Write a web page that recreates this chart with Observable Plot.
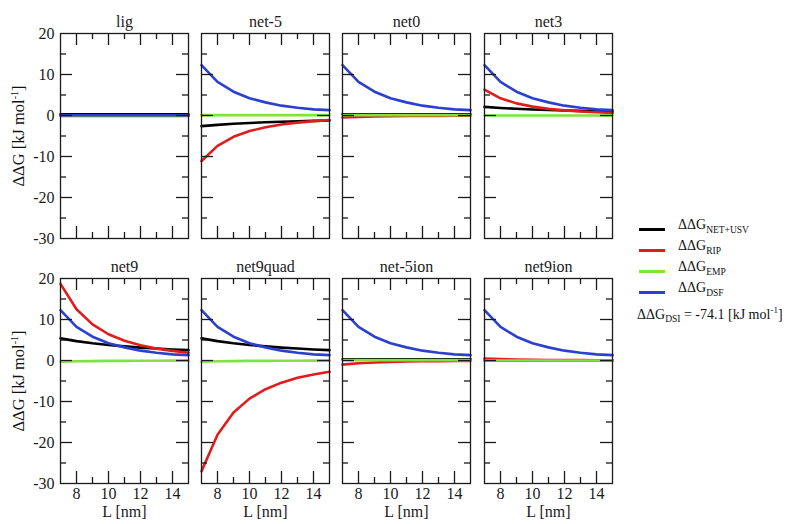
<!DOCTYPE html>
<html>
<head>
<meta charset="utf-8">
<script src="https://cdn.jsdelivr.net/npm/d3@7"></script>
<script src="https://cdn.jsdelivr.net/npm/@observablehq/plot@0.6"></script>
<style>
  html, body { margin: 0; padding: 0; background: #fff; }
  #root { position: relative; width: 789px; height: 524px; overflow: hidden; font-family: "Liberation Serif", "Tinos", "Times New Roman", "DejaVu Serif", serif; color: #111; }
  .ylab { position: absolute; white-space: nowrap; font-size: 16.5px; transform: translate(-50%, -50%) rotate(-90deg); }
  .ylab sup { font-size: 10px; }
  .leg { position: absolute; white-space: nowrap; font-size: 14px; }
  .leg sub { font-size: 9.5px; }
  .leg sup { font-size: 9px; }
  .sw { position: absolute; height: 3px; }
</style>
</head>
<body>
<div id="root"></div>
<script>
// ---------- data ----------
const L = [7, 8, 9, 10, 11, 12, 13, 14, 15];
const panelNames = ["lig", "net-5", "net0", "net3", "net9", "net9quad", "net-5ion", "net9ion"];
const seriesNames = ["NET+USV", "RIP", "EMP", "DSF"];
const seriesColors = ["#000000", "#e01c1c", "#80e23c", "#2c40d0"];

const lig_net = [0.3, 0.3, 0.3, 0.3, 0.3, 0.3, 0.3, 0.3, 0.3];
const lig_rip = [-0.1, -0.1, -0.1, -0.1, -0.1, -0.1, -0.1, -0.1, -0.1];
const lig_emp = [0, 0, 0, 0, 0, 0, 0, 0, 0];
const lig_dsf = [0.05, 0.05, 0.05, 0.05, 0.05, 0.05, 0.05, 0.05, 0.05];

const netm5_net = [-2.6, -2.28, -2.02, -1.82, -1.65, -1.52, -1.4, -1.3, -1.21];
const netm5_rip = [-11.1, -7.4, -5.2, -3.8, -2.85, -2.2, -1.73, -1.38, -1.13];
const netm5_emp = [0.1, 0.1, 0.1, 0.1, 0.1, 0.1, 0.1, 0.1, 0.1];
const netm5_dsf = [12.3, 8.2, 5.8, 4.2, 3.2, 2.4, 1.9, 1.5, 1.3];

const net0_net = [0.3, 0.3, 0.3, 0.3, 0.3, 0.3, 0.3, 0.3, 0.3];
const net0_rip = [-0.5, -0.33, -0.24, -0.17, -0.13, -0.1, -0.08, -0.06, -0.05];
const net0_emp = [0.1, 0.1, 0.1, 0.1, 0.1, 0.1, 0.1, 0.1, 0.1];
const net0_dsf = [12.3, 8.2, 5.8, 4.2, 3.2, 2.4, 1.9, 1.5, 1.3];

const net3_net = [2.1, 1.84, 1.63, 1.47, 1.34, 1.23, 1.13, 1.05, 0.98];
const net3_rip = [6.3, 4.2, 2.96, 2.16, 1.62, 1.25, 0.98, 0.79, 0.64];
const net3_emp = [0, 0, 0, 0, 0, 0, 0, 0, 0];
const net3_dsf = [12.3, 8.2, 5.8, 4.2, 3.2, 2.4, 1.9, 1.5, 1.3];

const net9_net = [5.4, 4.73, 4.2, 3.78, 3.44, 3.15, 2.91, 2.7, 2.52];
const net9_rip = [18.7, 12.5, 8.8, 6.4, 4.8, 3.7, 2.9, 2.34, 1.9];
const net9_emp = [-0.3, -0.2, -0.15, -0.1, -0.08, -0.06, -0.05, -0.04, -0.03];
const net9_dsf = [12.3, 8.2, 5.8, 4.2, 3.2, 2.4, 1.9, 1.5, 1.3];

const net9quad_net = [5.4, 4.73, 4.2, 3.78, 3.44, 3.15, 2.91, 2.7, 2.52];
const net9quad_rip = [-27.0, -18.1, -12.7, -9.3, -7.0, -5.4, -4.2, -3.4, -2.75];
const net9quad_emp = [-0.3, -0.2, -0.15, -0.1, -0.08, -0.06, -0.05, -0.04, -0.03];
const net9quad_dsf = [12.3, 8.2, 5.8, 4.2, 3.2, 2.4, 1.9, 1.5, 1.3];

const netm5ion_net = [0.3, 0.3, 0.3, 0.3, 0.3, 0.3, 0.3, 0.3, 0.3];
const netm5ion_rip = [-1.0, -0.67, -0.47, -0.34, -0.26, -0.2, -0.16, -0.13, -0.1];
const netm5ion_emp = [0.1, 0.1, 0.1, 0.1, 0.1, 0.1, 0.1, 0.1, 0.1];
const netm5ion_dsf = [12.3, 8.2, 5.8, 4.2, 3.2, 2.4, 1.9, 1.5, 1.3];

const net9ion_net = [0, 0, 0, 0, 0, 0, 0, 0, 0];
const net9ion_rip = [0.5, 0.34, 0.24, 0.17, 0.13, 0.1, 0.08, 0.06, 0.05];
const net9ion_emp = [0, 0, 0, 0, 0, 0, 0, 0, 0];
const net9ion_dsf = [12.3, 8.2, 5.8, 4.2, 3.2, 2.4, 1.9, 1.5, 1.3];

const xMajor = [8, 10, 12, 14];
const xMinor = [9, 11, 13];
const yMajor = [-20, -10, 0, 10];
const yMinor = [-25, -15, -5, 5, 15];
const yLabels = [-30, -20, -10, 0, 10, 20];
const xLabels = [8, 10, 12, 14];
const dsiValue = -74.1;

const panelSeries = [
  [lig_net, lig_rip, lig_emp, lig_dsf],
  [netm5_net, netm5_rip, netm5_emp, netm5_dsf],
  [net0_net, net0_rip, net0_emp, net0_dsf],
  [net3_net, net3_rip, net3_emp, net3_dsf],
  [net9_net, net9_rip, net9_emp, net9_dsf],
  [net9quad_net, net9quad_rip, net9quad_emp, net9quad_dsf],
  [netm5ion_net, netm5ion_rip, netm5ion_emp, netm5ion_dsf],
  [net9ion_net, net9ion_rip, net9ion_emp, net9ion_dsf]
];

// ---------- layout ----------
const colX = [60, 201, 342, 484];
const rowY = [33, 278];
const PW = 128, PH = 205;
const root = document.getElementById("root");
const ink = "#1a1a1a";
const serif = "'Liberation Serif', 'Tinos', 'Times New Roman', 'DejaVu Serif', serif";

panelNames.forEach((name, i) => {
  const col = i % 4, row = Math.floor(i / 4);
  const mL = col === 0 ? 58 : 7, mR = 7, mT = 30, mB = row === 1 ? 46 : 7;
  const marks = [];
  panelSeries[i].forEach((vals, s) => {
    const rows = L.map((l, k) => ({L: l, v: vals[k]}));
    marks.push(Plot.line(rows, {x: "L", y: "v", stroke: seriesColors[s], strokeWidth: 2.6, curve: "linear"}));
  });
  marks.push(
    Plot.frame({stroke: ink, strokeWidth: 1.3}),
    Plot.tickX(xMajor, {x: d => d, insetTop: PH - 12, stroke: ink, strokeWidth: 1.3}),
    Plot.tickX(xMinor, {x: d => d, insetTop: PH - 6, stroke: ink, strokeWidth: 1.3}),
    Plot.tickX(xMajor, {x: d => d, insetBottom: PH - 12, stroke: ink, strokeWidth: 1.3}),
    Plot.tickX(xMinor, {x: d => d, insetBottom: PH - 6, stroke: ink, strokeWidth: 1.3}),
    Plot.tickY(yMajor, {y: d => d, insetRight: PW - 12, stroke: ink, strokeWidth: 1.3}),
    Plot.tickY(yMinor, {y: d => d, insetRight: PW - 6, stroke: ink, strokeWidth: 1.3}),
    Plot.tickY(yMajor, {y: d => d, insetLeft: PW - 12, stroke: ink, strokeWidth: 1.3}),
    Plot.tickY(yMinor, {y: d => d, insetLeft: PW - 6, stroke: ink, strokeWidth: 1.3}),
    Plot.text([name], {text: d => d, frameAnchor: "top", dy: -18, fontSize: 16, fill: ink, fontFamily: serif})
  );
  if (col === 0) {
    marks.push(Plot.axisY({ticks: yLabels, tickSize: 0, tickPadding: 6, tickFormat: d => String(d), fontSize: 16, fill: ink, label: null, fontFamily: serif}));
  }
  if (row === 1) {
    marks.push(Plot.axisX({ticks: xLabels, tickSize: 0, tickPadding: 4, tickFormat: d => String(d), fontSize: 16, fill: ink, label: null, fontFamily: serif}));
    marks.push(Plot.text(["L [nm]"], {text: d => d, frameAnchor: "bottom", dy: 33, fontSize: 16, fill: ink, fontFamily: serif}));
  }
  const p = Plot.plot({
    width: PW + mL + mR,
    height: PH + mT + mB,
    marginLeft: mL, marginRight: mR, marginTop: mT, marginBottom: mB,
    x: {domain: [7, 15], axis: null},
    y: {domain: [-30, 20], axis: null},
    style: {fontFamily: serif, fontSize: "16px", background: "transparent", overflow: "visible"},
    marks
  });
  p.style.position = "absolute";
  p.style.left = (colX[col] - mL) + "px";
  p.style.top = (rowY[row] - mT) + "px";
  root.appendChild(p);
});

// y axis labels
rowY.forEach(y0 => {
  const d = document.createElement("div");
  d.className = "ylab";
  d.style.left = "19px";
  d.style.top = (y0 + PH / 2) + "px";
  d.innerHTML = "ΔΔG [kJ mol<sup>-1</sup>]";
  root.appendChild(d);
});

// legend
const legY = [229, 250, 271, 292];
seriesNames.forEach((s, k) => {
  const sw = document.createElement("div");
  sw.className = "sw";
  sw.style.left = "639px";
  sw.style.width = "26px";
  sw.style.top = (legY[k] - 1.5) + "px";
  sw.style.background = seriesColors[k];
  root.appendChild(sw);
  const t = document.createElement("div");
  t.className = "leg";
  t.style.left = "678px";
  t.style.top = (legY[k] - 12) + "px";
  t.innerHTML = "ΔΔG<sub>" + s + "</sub>";
  root.appendChild(t);
});
const dsi = document.createElement("div");
dsi.className = "leg";
dsi.style.left = "637px";
dsi.style.top = "305px";
dsi.innerHTML = "ΔΔG<sub>DSI</sub> = " + String(dsiValue) + " [kJ mol<sup>-1</sup>]";
root.appendChild(dsi);
</script>
</body>
</html>
